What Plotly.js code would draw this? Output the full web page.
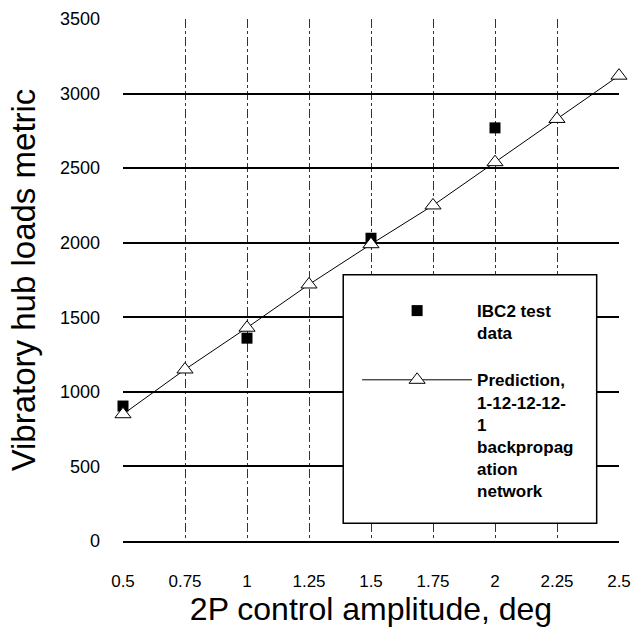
<!DOCTYPE html>
<html>
<head>
<meta charset="utf-8">
<script src="https://cdn.plot.ly/plotly-3.0.1.min.js"></script>
<style>html,body{margin:0;padding:0;background:#fff;}#chart{width:642px;height:639px;}</style>
</head>
<body>
<div id="chart"></div>
<script>
// Data
var amplitude = [0.5, 0.75, 1, 1.25, 1.5, 1.75, 2, 2.25, 2.5];
var prediction = [850, 1150, 1430, 1720, 1990, 2250, 2540, 2830, 3120];
var testAmplitude = [0.5, 1, 1.5, 2];
var testData = [905, 1360, 2030, 2770];
var xTickVals = [0.5, 0.75, 1, 1.25, 1.5, 1.75, 2, 2.25, 2.5];
var xTickText = ["0.5", "0.75", "1", "1.25", "1.5", "1.75", "2", "2.25", "2.5"];
var yTickVals = [0, 500, 1000, 1500, 2000, 2500, 3000, 3500];

var traces = [
  {
    x: testAmplitude, y: testData, type: 'scatter', mode: 'markers',
    name: 'IBC2 test<br>data', legendgroup: 'a',
    marker: {symbol: 'square', size: 11, color: '#000'},
    cliponaxis: false
  },
  {
    x: amplitude, y: prediction, type: 'scatter', mode: 'lines+markers',
    name: 'Prediction,<br>1-12-12-12-<br>1<br>backpropag<br>ation<br>network', legendgroup: 'b',
    line: {color: '#000', width: 1},
    marker: {symbol: 'triangle-up', size: 14, color: '#fff', line: {color: '#000', width: 1}},
    cliponaxis: false
  }
];

var layout = {
  width: 642, height: 639,
  margin: {l: 123, r: 23, t: 19, b: 98},
  paper_bgcolor: '#fff', plot_bgcolor: '#fff',
  font: {family: 'Liberation Sans, Arial, sans-serif', color: '#000'},
  showlegend: true,
  legend: {
    x: 0.472, y: 0.475, xanchor: 'left', yanchor: 'top',
    bgcolor: 'rgba(0,0,0,0)', borderwidth: 0,
    font: {family: 'Liberation Sans, Arial, sans-serif', size: 17, color: '#000', weight: 'bold'},
    itemwidth: 110, valign: 'top', tracegroupgap: 22
  },
  xaxis: {
    range: [0.5, 2.5], tickmode: 'array', tickvals: xTickVals, ticktext: xTickText,
    showgrid: true, gridcolor: '#333', gridwidth: 1, griddash: 'dashdot',
    zeroline: false, showline: true, linecolor: '#000', linewidth: 2, mirror: false,
    ticks: '', ticklabelstandoff: 24,
    tickfont: {size: 17, family: 'Liberation Sans, Arial, sans-serif'},
    title: {text: '2P control amplitude, deg', font: {size: 32}, standoff: 6},
    automargin: false, fixedrange: true
  },
  yaxis: {
    range: [0, 3500], tickmode: 'array', tickvals: yTickVals,
    showgrid: true, gridcolor: '#000', gridwidth: 2,
    zeroline: false, showline: false,
    ticks: '', ticklabelstandoff: 22,
    tickfont: {size: 18, family: 'Liberation Sans, Arial, sans-serif'},
    title: {text: 'Vibratory hub loads metric', font: {size: 33}, standoff: 14},
    automargin: false, fixedrange: true
  },
  shapes: [
    {type: 'rect', xref: 'paper', yref: 'paper', x0: 0.444, x1: 0.955, y0: 0.034, y1: 0.51,
     fillcolor: '#fff', line: {color: '#000', width: 1.5}, layer: 'above'}
  ]
};

Plotly.newPlot('chart', traces, layout, {displayModeBar: false, staticPlot: true});
</script>
</body>
</html>
